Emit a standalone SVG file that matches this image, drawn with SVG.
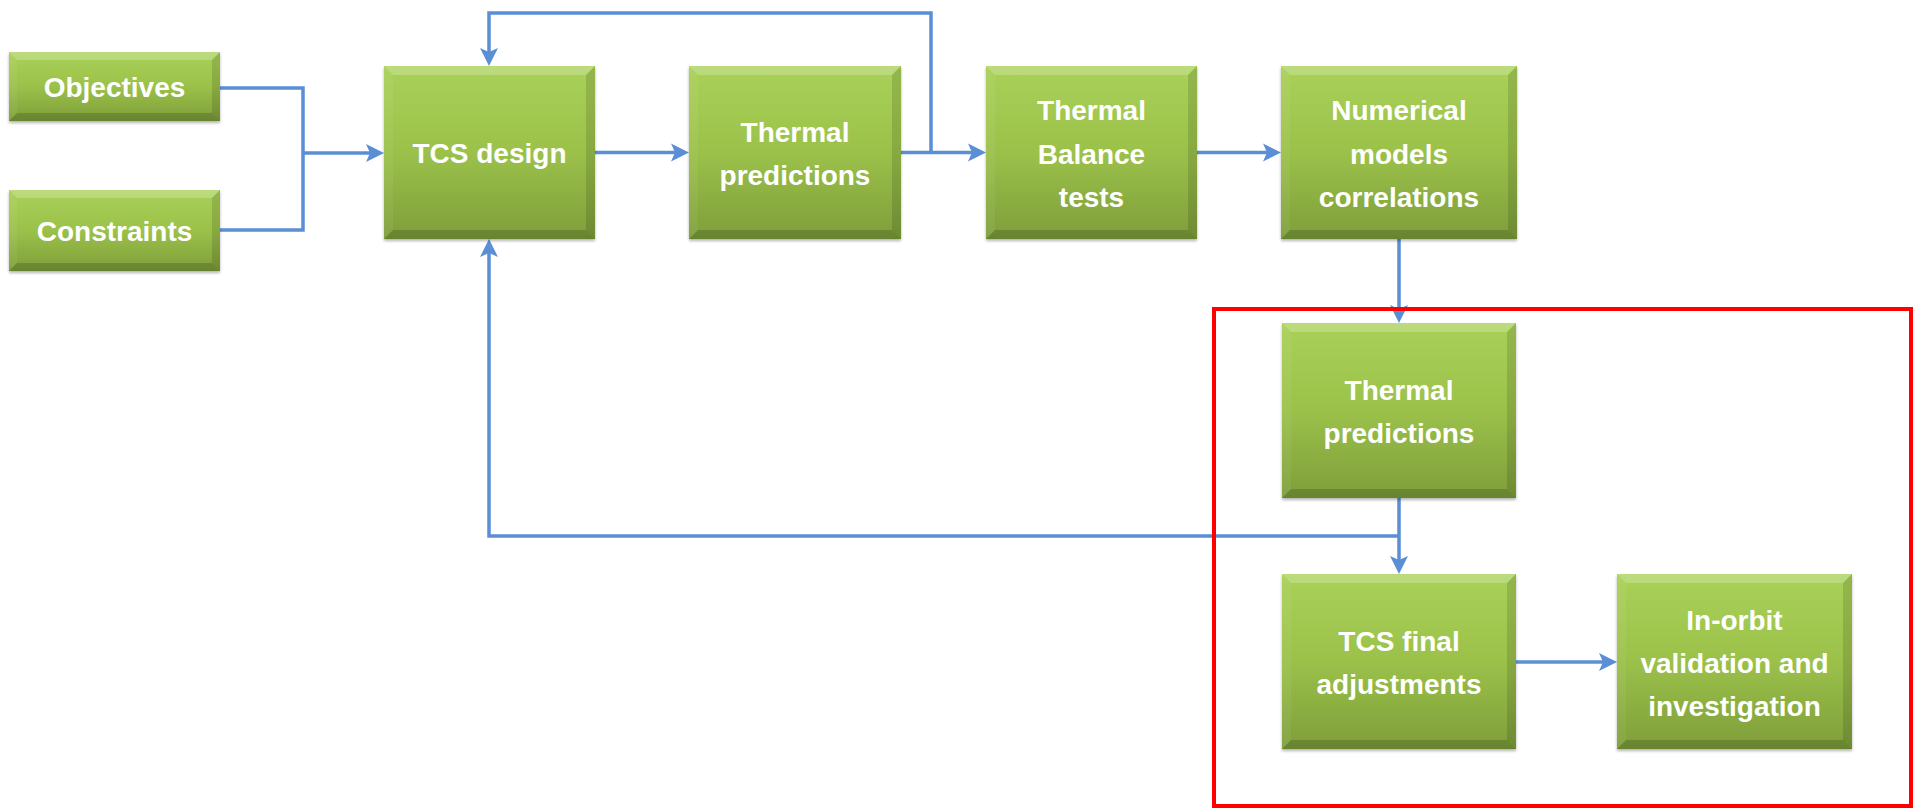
<svg xmlns="http://www.w3.org/2000/svg" width="1921" height="810" viewBox="0 0 1921 810">
<style>
.box{fill:url(#g);filter:url(#sh)}
.bt{fill:#ffffff;fill-opacity:0.22}
.bb{fill:#000000;fill-opacity:0.16}
.bl{fill:#ffffff;fill-opacity:0.06}
.br{fill:#000000;fill-opacity:0.12}
.t{font-family:"Liberation Sans",Arial,sans-serif;font-weight:bold;font-size:28px;fill:#ffffff;text-anchor:middle}
.c{fill:none;stroke:#5a8fd6;stroke-width:3.5}
.a{marker-end:url(#ah)}
</style>
<defs>
<linearGradient id="g" x1="0" y1="0" x2="0" y2="1">
<stop offset="0" stop-color="#a9d158"/>
<stop offset="0.5" stop-color="#9bc14a"/>
<stop offset="1" stop-color="#7e9e3a"/>
</linearGradient>
<filter id="sh" x="-5%" y="-5%" width="110%" height="115%">
<feGaussianBlur in="SourceAlpha" stdDeviation="1.5"/>
<feOffset dx="0" dy="2" result="o"/>
<feComponentTransfer><feFuncA type="linear" slope="0.3"/></feComponentTransfer>
<feMerge><feMergeNode/><feMergeNode in="SourceGraphic"/></feMerge>
</filter>
<marker id="ah" markerUnits="userSpaceOnUse" refX="0" refY="0" markerWidth="20" markerHeight="20" orient="auto" overflow="visible">
<path d="M-11,-9 L7,0 L-11,9 L-7,0 z" fill="#5a8fd6"/>
</marker>
</defs>

<g id="connectors">
<path class="c" d="M220,88 H303 V230 H220"/>
<path class="c a" d="M303,153 H377"/>
<path class="c a" d="M595,152.5 H682"/>
<path class="c a" d="M901,152.5 H979"/>
<path class="c a" d="M931,152.5 V13 H489 V59"/>
<path class="c a" d="M1197,152.5 H1274"/>
<path class="c a" d="M1399,239 V316"/>
<path class="c a" d="M1399,498 V567"/>
<path class="c a" d="M1399,536 H489 V246"/>
<path class="c a" d="M1516,662 H1610"/>
</g>

<g id="objectives">
<rect class="box" x="9" y="52" width="211" height="69"/>
<polygon class="bt" points="9,52 220,52 212,60 17,60"/>
<polygon class="bb" points="9,121 220,121 212,113 17,113"/>
<polygon class="bl" points="9,52 17,60 17,113 9,121"/>
<polygon class="br" points="220,52 212,60 212,113 220,121"/>
<text class="t" x="114.5" y="97">Objectives</text>
</g>

<g id="constraints">
<rect class="box" x="9" y="190" width="211" height="81"/>
<polygon class="bt" points="9,190 220,190 212,198 17,198"/>
<polygon class="bb" points="9,271 220,271 212,263 17,263"/>
<polygon class="bl" points="9,190 17,198 17,263 9,271"/>
<polygon class="br" points="220,190 212,198 212,263 220,271"/>
<text class="t" x="114.5" y="241">Constraints</text>
</g>

<g id="tcs-design">
<rect class="box" x="384" y="66" width="211" height="173"/>
<polygon class="bt" points="384,66 595,66 586,75 393,75"/>
<polygon class="bb" points="384,239 595,239 586,230 393,230"/>
<polygon class="bl" points="384,66 393,75 393,230 384,239"/>
<polygon class="br" points="595,66 586,75 586,230 595,239"/>
<text class="t" x="489.5" y="163">TCS design</text>
</g>

<g id="thermal-predictions-1">
<rect class="box" x="689" y="66" width="212" height="173"/>
<polygon class="bt" points="689,66 901,66 892,75 698,75"/>
<polygon class="bb" points="689,239 901,239 892,230 698,230"/>
<polygon class="bl" points="689,66 698,75 698,230 689,239"/>
<polygon class="br" points="901,66 892,75 892,230 901,239"/>
<text class="t" x="795" y="142">Thermal</text>
<text class="t" x="795" y="185">predictions</text>
</g>

<g id="thermal-balance-tests">
<rect class="box" x="986" y="66" width="211" height="173"/>
<polygon class="bt" points="986,66 1197,66 1188,75 995,75"/>
<polygon class="bb" points="986,239 1197,239 1188,230 995,230"/>
<polygon class="bl" points="986,66 995,75 995,230 986,239"/>
<polygon class="br" points="1197,66 1188,75 1188,230 1197,239"/>
<text class="t" x="1091.5" y="120">Thermal</text>
<text class="t" x="1091.5" y="164">Balance</text>
<text class="t" x="1091.5" y="207">tests</text>
</g>

<g id="numerical-models">
<rect class="box" x="1281" y="66" width="236" height="173"/>
<polygon class="bt" points="1281,66 1517,66 1508,75 1290,75"/>
<polygon class="bb" points="1281,239 1517,239 1508,230 1290,230"/>
<polygon class="bl" points="1281,66 1290,75 1290,230 1281,239"/>
<polygon class="br" points="1517,66 1508,75 1508,230 1517,239"/>
<text class="t" x="1399" y="120">Numerical</text>
<text class="t" x="1399" y="164">models</text>
<text class="t" x="1399" y="207">correlations</text>
</g>

<g id="validation-frame">
<rect x="1214" y="309" width="697" height="497" fill="none" stroke="#ff0000" stroke-width="4"/>
</g>

<g id="thermal-predictions-2">
<rect class="box" x="1282" y="323" width="234" height="175"/>
<polygon class="bt" points="1282,323 1516,323 1507,332 1291,332"/>
<polygon class="bb" points="1282,498 1516,498 1507,489 1291,489"/>
<polygon class="bl" points="1282,323 1291,332 1291,489 1282,498"/>
<polygon class="br" points="1516,323 1507,332 1507,489 1516,498"/>
<text class="t" x="1399" y="400">Thermal</text>
<text class="t" x="1399" y="443">predictions</text>
</g>

<g id="tcs-final">
<rect class="box" x="1282" y="574" width="234" height="175"/>
<polygon class="bt" points="1282,574 1516,574 1507,583 1291,583"/>
<polygon class="bb" points="1282,749 1516,749 1507,740 1291,740"/>
<polygon class="bl" points="1282,574 1291,583 1291,740 1282,749"/>
<polygon class="br" points="1516,574 1507,583 1507,740 1516,749"/>
<text class="t" x="1399" y="651">TCS final</text>
<text class="t" x="1399" y="694">adjustments</text>
</g>

<g id="in-orbit">
<rect class="box" x="1617" y="574" width="235" height="175"/>
<polygon class="bt" points="1617,574 1852,574 1843,583 1626,583"/>
<polygon class="bb" points="1617,749 1852,749 1843,740 1626,740"/>
<polygon class="bl" points="1617,574 1626,583 1626,740 1617,749"/>
<polygon class="br" points="1852,574 1843,583 1843,740 1852,749"/>
<text class="t" x="1734.5" y="630">In-orbit</text>
<text class="t" x="1734.5" y="673">validation and</text>
<text class="t" x="1734.5" y="716">investigation</text>
</g>
</svg>
